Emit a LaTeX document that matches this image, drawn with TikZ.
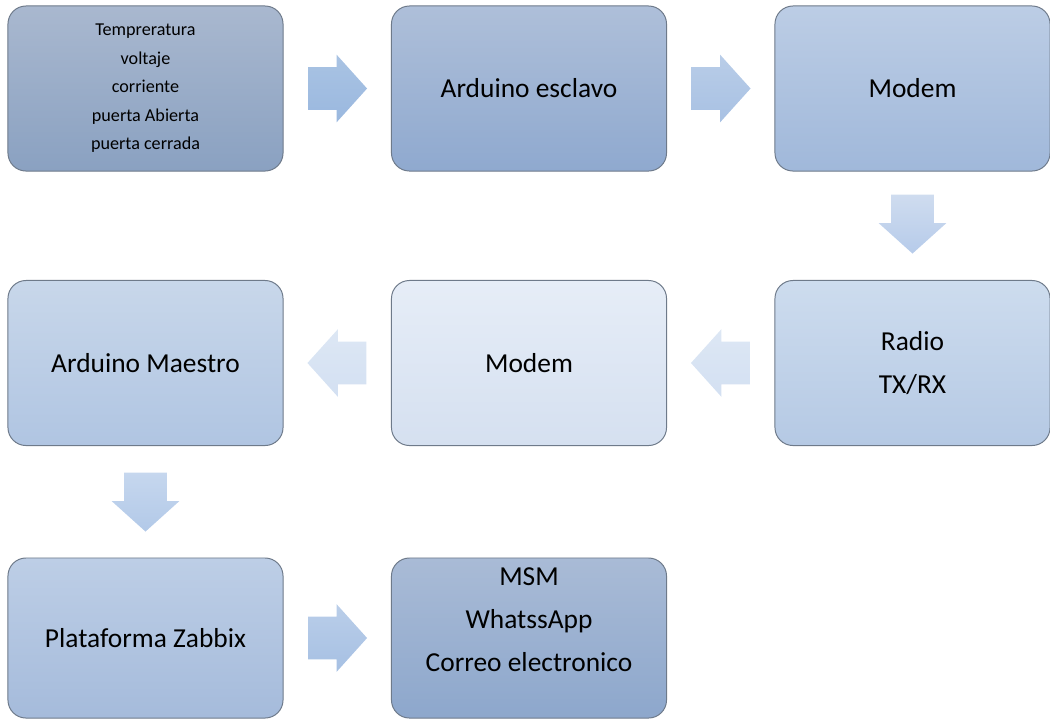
\documentclass[tikz,border=0pt]{standalone}
\usepackage{fontspec}
\setmainfont{Carlito}
\usetikzlibrary{shapes.arrows,calc}

\definecolor{bordecaja}{HTML}{6E7A8A}
\definecolor{sensA}{HTML}{A9B8CF}\definecolor{sensB}{HTML}{8AA1C1}
\definecolor{escA}{HTML}{AEBFD9}\definecolor{escB}{HTML}{8FA9CF}
\definecolor{modA}{HTML}{BCCDE5}\definecolor{modB}{HTML}{A0B8DA}
\definecolor{radA}{HTML}{CDDCEE}\definecolor{radB}{HTML}{B5C9E4}
\definecolor{modrA}{HTML}{E6EDF7}\definecolor{modrB}{HTML}{D5E0F0}
\definecolor{maeA}{HTML}{C8D7EA}\definecolor{maeB}{HTML}{B0C5E2}
\definecolor{zabA}{HTML}{BDCEE6}\definecolor{zabB}{HTML}{A5BBDB}
\definecolor{msmA}{HTML}{A9BBD6}\definecolor{msmB}{HTML}{8DA7CC}
\definecolor{flA}{HTML}{A9C3E3}\definecolor{flB}{HTML}{9AB8DF}
\definecolor{flC}{HTML}{B9CDE8}\definecolor{flD}{HTML}{A8C1E3}
\definecolor{flE}{HTML}{CFDCEF}\definecolor{flF}{HTML}{B6CBEA}
\definecolor{flG}{HTML}{DDE7F4}\definecolor{flH}{HTML}{D3E0F2}
\definecolor{flI}{HTML}{C6D7EE}\definecolor{flJ}{HTML}{B2C9E8}
\definecolor{flK}{HTML}{BACEE9}\definecolor{flL}{HTML}{A6C0E3}

\begin{document}
\begin{tikzpicture}[x=0.025cm,y=-0.025cm,
    caja/.style={draw=bordecaja, line width=0.7pt, rounded corners=0.45cm,
      minimum width=6.875cm, minimum height=4.125cm, align=center,
      font=\fontsize{19.5}{30.6}\selectfont},
    flecha/.style={single arrow, draw=none, anchor=tail, inner xsep=0pt, inner ysep=0.525cm,
      minimum width=1.675cm, minimum height=1.475cm,
      single arrow head extend=0.3125cm, single arrow tip angle=96},
    flechav/.style={flecha, shape border rotate=270, inner xsep=0.525cm, inner ysep=0pt}]
    \useasboundingbox (0,0) rectangle (1050,719);

    % fila 1
    \node[caja, top color=sensA, bottom color=sensB, font=\fontsize{12.9}{20.3}\selectfont] (sensores) at (145.5,88.5)
        {Tempreratura\\voltaje\\corriente\\puerta Abierta\\puerta cerrada};
    \node[caja, top color=escA, bottom color=escB] (esclavo) at (529,88.5) {Arduino esclavo};
    \node[caja, top color=modA, bottom color=modB] (modem) at (912.5,88.5) {Modem};

    % fila 2
    \node[caja, top color=maeA, bottom color=maeB] (maestro) at (145.5,363) {Arduino Maestro};
    \node[caja, top color=modrA, bottom color=modrB] (modemrx) at (529,363) {Modem};
    \node[caja, top color=radA, bottom color=radB] (radio) at (912.5,363) {Radio\\TX/RX};

    % fila 3
    \node[caja, minimum height=4cm, top color=zabA, bottom color=zabB] (zabbix) at (145.5,638) {Plataforma Zabbix};
    \node[caja, minimum height=4cm, top color=msmA, bottom color=msmB] (avisos) at (529,638) {};
    \node[align=center, font=\fontsize{19.5}{30.6}\selectfont] (avisostxt) at (529,620)
        {MSM\\WhatssApp\\Correo electronico};

    % flechas
    \node[flecha, top color=flA, bottom color=flB] (f1) at ($(sensores.east)!0.5!(esclavo.west)+(-29.5,0)$) {};
    \node[flecha, top color=flC, bottom color=flD] (f2) at ($(esclavo.east)!0.5!(modem.west)+(-29.5,0)$) {};
    \node[flechav, top color=flE, bottom color=flF] (f3) at ($(modem.south)!0.5!(radio.north)+(0,-31.5)$) {};
    \node[flecha, shape border rotate=180, top color=flG, bottom color=flH] (f4) at ($(radio.west)!0.5!(modemrx.east)+(29.5,0)$) {};
    \node[flecha, shape border rotate=180, top color=flG, bottom color=flH] (f5) at ($(modemrx.west)!0.5!(maestro.east)+(29.5,0)$) {};
    \node[flechav, top color=flI, bottom color=flJ] (f6) at ($(maestro.south)!0.5!(zabbix.north)+(0,-29.5)$) {};
    \node[flecha, top color=flK, bottom color=flL] (f7) at ($(zabbix.east)!0.5!(avisos.west)+(-29.5,0)$) {};
\end{tikzpicture}
\end{document}
